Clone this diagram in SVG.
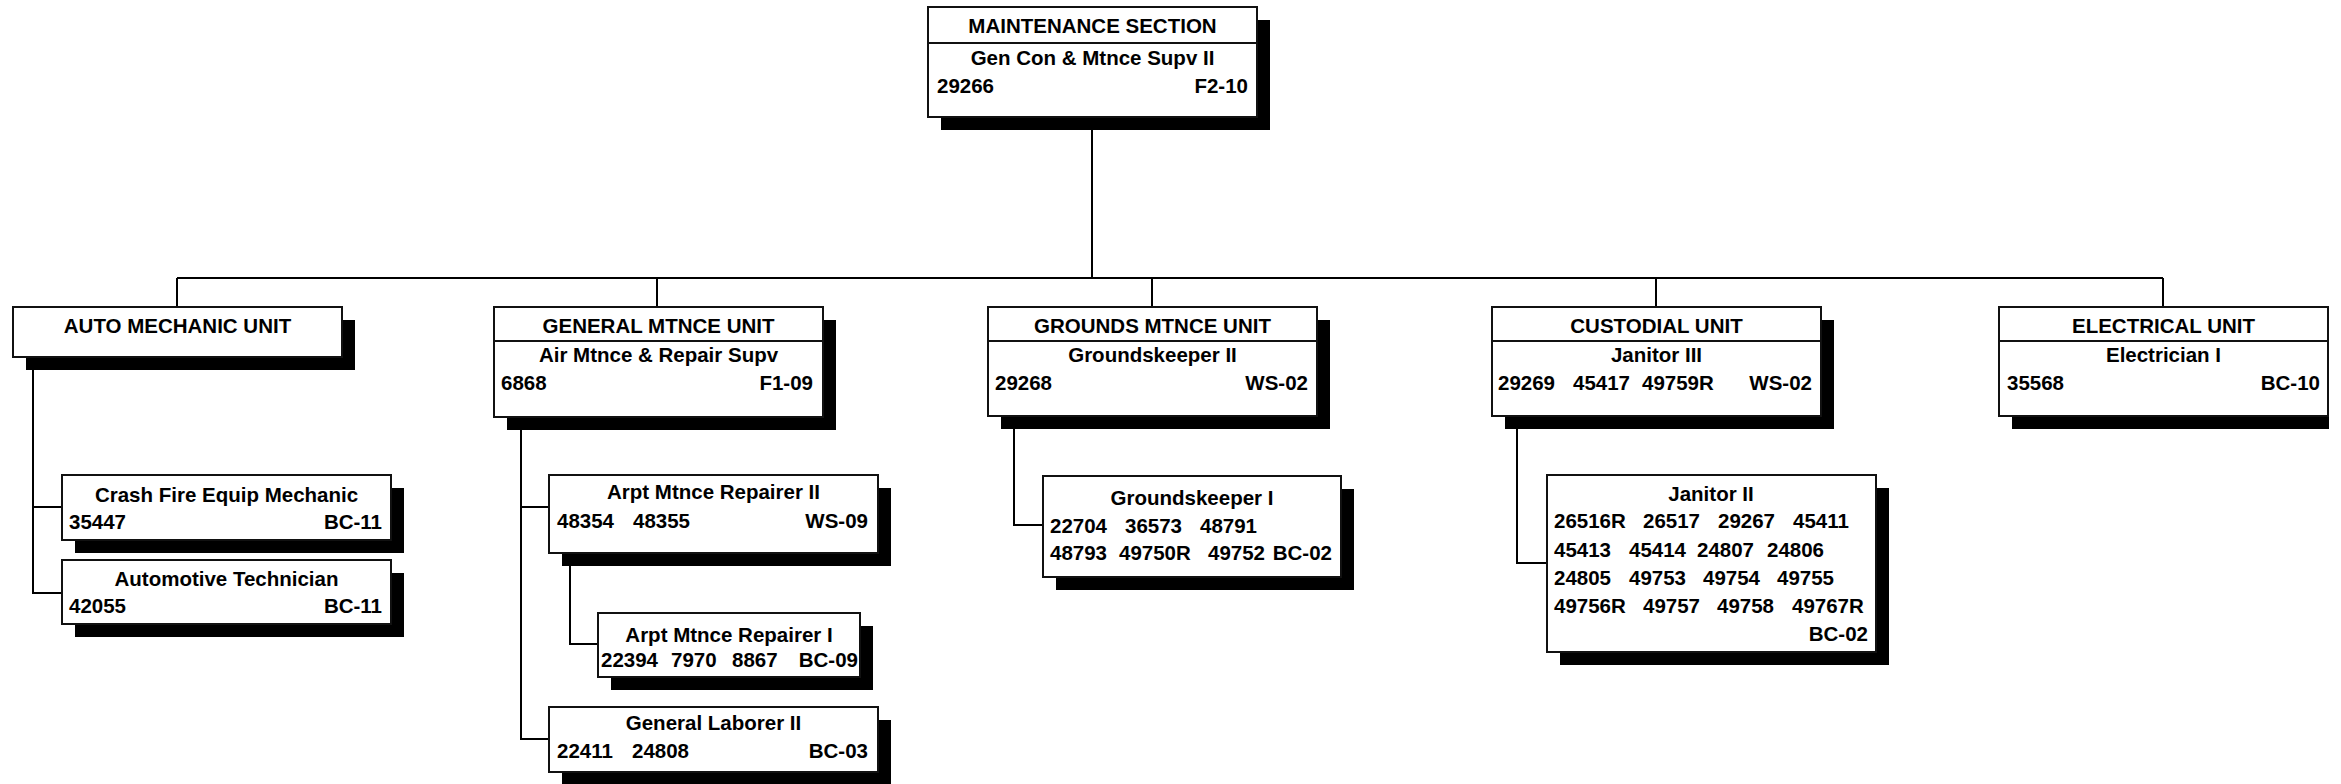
<svg xmlns="http://www.w3.org/2000/svg" width="2341" height="784" viewBox="0 0 2341 784">
<style>
.sh{fill:#000;}
.bx{fill:#fff;stroke:#111;stroke-width:2;}
.dv{stroke:#111;stroke-width:2;}
.ln{stroke:#000;stroke-width:2;fill:none;}
text{font-family:"Liberation Sans",Arial,Helvetica,sans-serif;font-weight:bold;font-size:20.5px;fill:#000;}
.c{text-anchor:middle;}
.e{text-anchor:end;}
</style>
<rect width="2341" height="784" fill="#fff"/>
<g id="connectors">
<path class="ln" d="M1092,117 V278 M177,278 H2163 M177,278 V307 M657,278 V307 M1152,278 V307 M1656,278 V307 M2163,278 V307"/>
<path class="ln" d="M33,357 V593 H62 M33,507 H62"/>
<path class="ln" d="M521,417 V739 H549 M521,507 H549"/>
<path class="ln" d="M570,553 V644 H598"/>
<path class="ln" d="M1014,416 V525 H1043"/>
<path class="ln" d="M1517,416 V563 H1547"/>
</g>
<g id="maintenance-section">
<rect class="sh" x="941" y="20" width="329" height="110"/>
<rect class="bx" x="928" y="7" width="329" height="110"/>
<line class="dv" x1="928" y1="43" x2="1257" y2="43"/>
<text class="c" x="1092.5" y="33">MAINTENANCE SECTION</text>
<text class="c" x="1092.5" y="65">Gen Con &amp; Mtnce Supv II</text>
<text x="937" y="93">29266</text>
<text class="e" x="1248" y="93">F2-10</text>
</g>
<g id="auto-mechanic-unit">
<rect class="sh" x="26" y="320" width="329" height="50"/>
<rect class="bx" x="13" y="307" width="329" height="50"/>
<text class="c" x="177.5" y="333">AUTO MECHANIC UNIT</text>
</g>
<g id="crash-fire-equip-mechanic">
<rect class="sh" x="75" y="488" width="329" height="65"/>
<rect class="bx" x="62" y="475" width="329" height="65"/>
<text class="c" x="226.5" y="502">Crash Fire Equip Mechanic</text>
<text x="69" y="529">35447</text>
<text class="e" x="382" y="529">BC-11</text>
</g>
<g id="automotive-technician">
<rect class="sh" x="75" y="573" width="329" height="64"/>
<rect class="bx" x="62" y="560" width="329" height="64"/>
<text class="c" x="226.5" y="586">Automotive Technician</text>
<text x="69" y="613">42055</text>
<text class="e" x="382" y="613">BC-11</text>
</g>
<g id="general-mtnce-unit">
<rect class="sh" x="507" y="320" width="329" height="110"/>
<rect class="bx" x="494" y="307" width="329" height="110"/>
<line class="dv" x1="494" y1="341" x2="823" y2="341"/>
<text class="c" x="658.5" y="333">GENERAL MTNCE UNIT</text>
<text class="c" x="658.5" y="362">Air Mtnce &amp; Repair Supv</text>
<text x="501" y="390">6868</text>
<text class="e" x="813" y="390">F1-09</text>
</g>
<g id="arpt-mtnce-repairer-ii">
<rect class="sh" x="562" y="488" width="329" height="78"/>
<rect class="bx" x="549" y="475" width="329" height="78"/>
<text class="c" x="713.5" y="499">Arpt Mtnce Repairer II</text>
<text x="557" y="528">48354</text>
<text x="633" y="528">48355</text>
<text class="e" x="868" y="528">WS-09</text>
</g>
<g id="arpt-mtnce-repairer-i">
<rect class="sh" x="611" y="626" width="262" height="64"/>
<rect class="bx" x="598" y="613" width="262" height="64"/>
<text class="c" x="729" y="642">Arpt Mtnce Repairer I</text>
<text x="601" y="667">22394</text>
<text x="671" y="667">7970</text>
<text x="732" y="667">8867</text>
<text class="e" x="858" y="667">BC-09</text>
</g>
<g id="general-laborer-ii">
<rect class="sh" x="562" y="720" width="329" height="65"/>
<rect class="bx" x="549" y="707" width="329" height="65"/>
<text class="c" x="713.5" y="730">General Laborer II</text>
<text x="557" y="758">22411</text>
<text x="632" y="758">24808</text>
<text class="e" x="868" y="758">BC-03</text>
</g>
<g id="grounds-mtnce-unit">
<rect class="sh" x="1001" y="320" width="329" height="109"/>
<rect class="bx" x="988" y="307" width="329" height="109"/>
<line class="dv" x1="988" y1="341" x2="1317" y2="341"/>
<text class="c" x="1152.5" y="333">GROUNDS MTNCE UNIT</text>
<text class="c" x="1152.5" y="362">Groundskeeper II</text>
<text x="995" y="390">29268</text>
<text class="e" x="1308" y="390">WS-02</text>
</g>
<g id="groundskeeper-i">
<rect class="sh" x="1056" y="489" width="298" height="101"/>
<rect class="bx" x="1043" y="476" width="298" height="101"/>
<text class="c" x="1192" y="505">Groundskeeper I</text>
<text x="1050" y="533">22704</text>
<text x="1125" y="533">36573</text>
<text x="1200" y="533">48791</text>
<text x="1050" y="560">48793</text>
<text x="1119" y="560">49750R</text>
<text x="1208" y="560">49752</text>
<text class="e" x="1332" y="560">BC-02</text>
</g>
<g id="custodial-unit">
<rect class="sh" x="1505" y="320" width="329" height="109"/>
<rect class="bx" x="1492" y="307" width="329" height="109"/>
<line class="dv" x1="1492" y1="341" x2="1821" y2="341"/>
<text class="c" x="1656.5" y="333">CUSTODIAL UNIT</text>
<text class="c" x="1656.5" y="362">Janitor III</text>
<text x="1498" y="390">29269</text>
<text x="1573" y="390">45417</text>
<text x="1642" y="390">49759R</text>
<text class="e" x="1812" y="390">WS-02</text>
</g>
<g id="janitor-ii">
<rect class="sh" x="1560" y="488" width="329" height="177"/>
<rect class="bx" x="1547" y="475" width="329" height="177"/>
<text class="c" x="1711" y="501">Janitor II</text>
<text x="1554" y="528">26516R</text>
<text x="1643" y="528">26517</text>
<text x="1718" y="528">29267</text>
<text x="1793" y="528">45411</text>
<text x="1554" y="557">45413</text>
<text x="1629" y="557">45414</text>
<text x="1697" y="557">24807</text>
<text x="1767" y="557">24806</text>
<text x="1554" y="585">24805</text>
<text x="1629" y="585">49753</text>
<text x="1703" y="585">49754</text>
<text x="1777" y="585">49755</text>
<text x="1554" y="613">49756R</text>
<text x="1643" y="613">49757</text>
<text x="1717" y="613">49758</text>
<text x="1792" y="613">49767R</text>
<text class="e" x="1868" y="641">BC-02</text>
</g>
<g id="electrical-unit">
<rect class="sh" x="2012" y="320" width="317" height="109"/>
<rect class="bx" x="1999" y="307" width="329" height="109"/>
<line class="dv" x1="1999" y1="341" x2="2328" y2="341"/>
<text class="c" x="2163.5" y="333">ELECTRICAL UNIT</text>
<text class="c" x="2163.5" y="362">Electrician I</text>
<text x="2007" y="390">35568</text>
<text class="e" x="2320" y="390">BC-10</text>
</g>
</svg>
